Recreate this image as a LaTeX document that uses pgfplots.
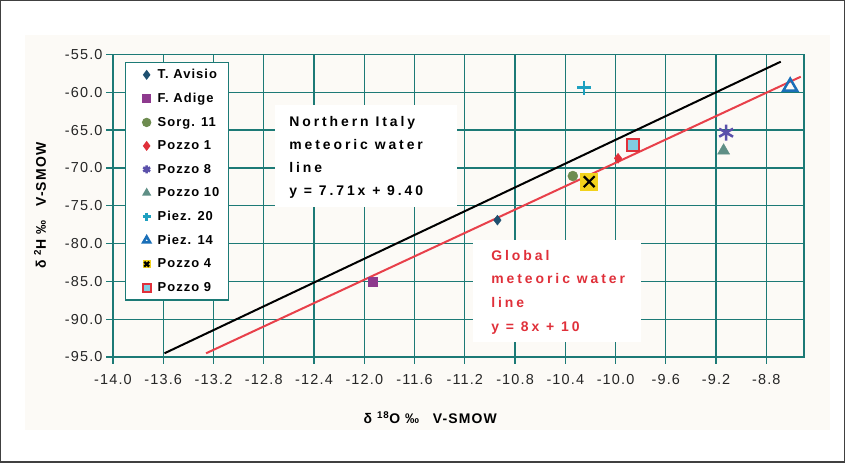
\documentclass[border=0pt]{standalone}
\usepackage{pgfplots}
\pgfplotsset{compat=1.18}
\usepackage{fontspec}
\setmainfont{Liberation Sans}
\newfontfamily\annfont[LetterSpace=21,BoldFont={Liberation Sans Bold}]{Liberation Sans}
\newfontfamily\tkfont[LetterSpace=8]{Liberation Sans}
\newfontfamily\lgfont[LetterSpace=8,BoldFont={Liberation Sans Bold}]{Liberation Sans}
\definecolor{gridteal}{RGB}{28,122,118}
\definecolor{cAvisio}{RGB}{30,80,112}
\definecolor{cAdige}{RGB}{142,58,142}
\definecolor{cSorg}{RGB}{110,140,80}
\definecolor{cP1}{RGB}{224,48,58}
\definecolor{cP8}{RGB}{90,80,170}
\definecolor{cP10}{RGB}{95,143,134}
\definecolor{cPz20}{RGB}{30,160,192}
\definecolor{cPz14}{RGB}{26,111,184}
\definecolor{cyel}{RGB}{242,210,27}
\definecolor{cP9fill}{RGB}{130,205,225}
\definecolor{redline}{RGB}{232,64,74}
\definecolor{bgcream}{RGB}{252,250,246}
\pgfdeclareplotmark{xsq}{%
  \pgfpathrectangle{\pgfpoint{-\pgfplotmarksize}{-\pgfplotmarksize}}{\pgfpoint{2\pgfplotmarksize}{2\pgfplotmarksize}}%
  \pgfsetfillcolor{cyel}\pgfusepathqfill
  \pgfpathmoveto{\pgfpoint{-0.6\pgfplotmarksize}{-0.6\pgfplotmarksize}}%
  \pgfpathlineto{\pgfpoint{0.6\pgfplotmarksize}{0.6\pgfplotmarksize}}%
  \pgfpathmoveto{\pgfpoint{-0.6\pgfplotmarksize}{0.6\pgfplotmarksize}}%
  \pgfpathlineto{\pgfpoint{0.6\pgfplotmarksize}{-0.6\pgfplotmarksize}}%
  \pgfsetstrokecolor{black}\pgfsetlinewidth{2.2pt}\pgfusepathqstroke
}
\begin{document}
\begin{tikzpicture}[x=1bp,y=1bp]
\useasboundingbox (0,0) rectangle (845,463);
\fill[bgcream] (25,33) rectangle (830,428);
\draw[line width=1.5bp, black!75] (0.75,0.75) rectangle (844.25,462.25);
\begin{axis}[
  at={(113bp,106bp)}, anchor=south west,
  scale only axis, width=691bp, height=302.5bp,
  xmin=-14, xmax=-8.5, ymin=-95, ymax=-55,
  xtick={-14,-13.6,-13.2,-12.8,-12.4,-12,-11.6,-11.2,-10.8,-10.4,-10,-9.6,-9.2,-8.8},
  ytick={-95,-90,-85,-80,-75,-70,-65,-60,-55},
  xtick pos=left, ytick pos=left,
  tick align=outside, major tick length=7bp,
  grid=major,
  grid style={gridteal, line width=1.3bp},
  axis line style={gridteal, line width=1.5bp},
  tick style={gridteal, line width=1.3bp},
  tick label style={font=\fontsize{14.5}{16}\selectfont\tkfont, black!85},
  xticklabel style={yshift=-7bp},
  /pgf/number format/.cd, fixed, fixed zerofill, precision=1, assume math mode=true,
  /pgfplots/.cd,
  xlabel={\fontsize{14}{16}\selectfont\lgfont\bfseries δ \textsuperscript{18}O ‰\quad V-SMOW},
  xlabel style={at={(axis description cs:0.459,-0.2)}, anchor=center},
  ylabel={\fontsize{14}{16}\selectfont\lgfont\bfseries δ \textsuperscript{2}H ‰\quad V-SMOW},
  ylabel style={at={(axis description cs:-0.1056,0.5)}, anchor=center},
  legend style={at={(axis description cs:0.0174,0.976)}, anchor=north west,
    draw=gridteal, line width=1.3bp, fill=white,
    font=\fontsize{13}{15}\selectfont\lgfont\bfseries,
    row sep=11bp, inner xsep=8bp, inner ysep=6bp,
    nodes={inner sep=1bp}},
  legend cell align=left,
  legend image code/.code={\path[draw=none,fill=none] (-13bp,0bp) -- (10bp,0bp);\draw[#1] plot coordinates {(0bp,0bp)};},
  legend image post style={mark size=4bp},
]
% white boxes behind annotations
\fill[white] (axis cs:-12.709,-61.68) rectangle (axis cs:-11.259,-75.17);
\fill[white] (axis cs:-11.131,-79.54) rectangle (axis cs:-9.801,-93.03);
% meteoric water lines
\addplot[black, line width=2bp, forget plot] coordinates {(-13.59,-94.51) (-8.685,-55.95)};
\addplot[redline, line width=2bp, forget plot] coordinates {(-13.259,-94.51) (-8.526,-57.94)};
% data
\addplot[only marks, mark=diamond*, mark size=5bp, color=cAvisio] coordinates {(-10.94,-76.9)};
\addlegendentry{T. Avisio}
\addplot[only marks, mark=square*, mark size=4.5bp, color=cAdige] coordinates {(-11.93,-85.0)};
\addlegendentry{F. Adige}
\addplot[only marks, mark=*, mark size=5bp, color=cSorg] coordinates {(-10.34,-71.07)};
\addlegendentry{Sorg. 11}
\addplot[only marks, mark=diamond*, mark size=5bp, color=cP1] coordinates {(-9.98,-68.73)};
\addlegendentry{Pozzo 1}
\addplot[only marks, mark=asterisk, mark size=8bp, color=cP8, mark options={line width=2.5bp}] coordinates {(-9.12,-65.34)};
\addlegendentry{Pozzo 8}
\addplot[only marks, mark=triangle*, mark size=7bp, color=cP10] coordinates {(-9.14,-67.72)};
\addlegendentry{Pozzo 10}
\addplot[only marks, mark=+, mark size=7bp, color=cPz20, mark options={line width=2.5bp}] coordinates {(-10.25,-59.39)};
\addlegendentry{Piez. 20}
\addplot[only marks, mark=triangle, mark size=8bp, color=cPz14, mark options={line width=2.5bp}] coordinates {(-8.61,-59.26)};
\addlegendentry{Piez. 14}
\addplot[only marks, mark=xsq, mark size=9bp, color=black] coordinates {(-10.21,-71.82)};
\addlegendentry{Pozzo 4}
\addplot[only marks, mark=square*, mark size=6bp, color=cP1, mark options={fill=cP9fill, line width=2bp}] coordinates {(-9.86,-66.97)};
\addlegendentry{Pozzo 9}
% annotations
\node[anchor=north west, align=left, inner sep=0pt, font=\fontsize{14}{23.3}\selectfont\annfont\bfseries, text=black]
  at (axis cs:-12.598,-63.13) {Northern Italy\\meteoric water\\line\\y = 7.71x + 9.40};
\node[anchor=north west, align=left, inner sep=0pt, font=\fontsize{14}{23.7}\selectfont\annfont\bfseries, text=cP1]
  at (axis cs:-10.99,-80.85) {Global\\meteoric water\\line\\y = 8x + 10};
\end{axis}
\end{tikzpicture}
\end{document}
